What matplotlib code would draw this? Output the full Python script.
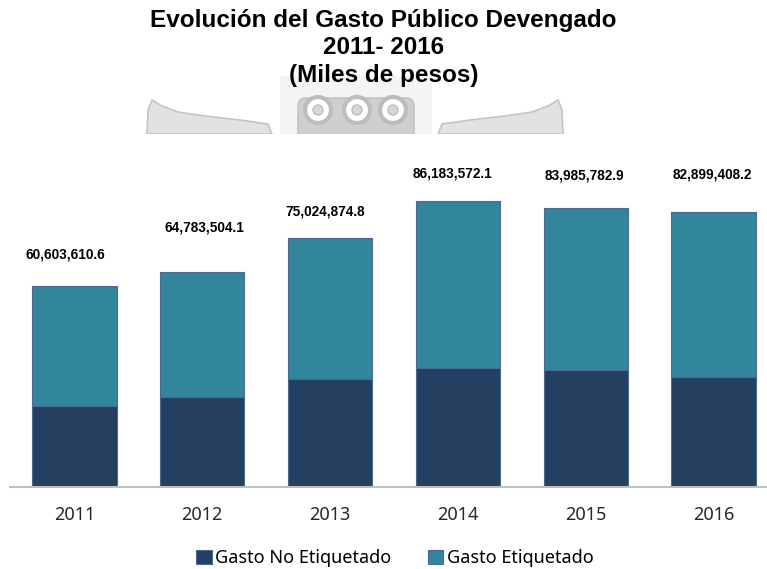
import numpy as np
import matplotlib.pyplot as plt
from matplotlib.patches import Polygon, Rectangle, Circle, FancyBboxPatch

# data (miles de pesos)
years = ['2011', '2012', '2013', '2014', '2015', '2016']
totales = [60603610.6, 64783504.1, 75024874.8, 86183572.1, 83985782.9, 82899408.2]
no_etiquetado = [24300000, 27000000, 32400000, 35700000, 35100000, 33000000]
etiquetado = [t - n for t, n in zip(totales, no_etiquetado)]
# label nudges in px (dx, gap from bar top to label centre)
label_dx = [-9, 2.5, -4.5, -5.5, -1.5, -1]
label_dy = [31, 44, 26, 28, 33, 37]

c_dark = '#243F60'
c_teal = '#31859C'

W, H = 767, 569
fig = plt.figure(figsize=(W / 100, H / 100), dpi=100)

# faded emblem behind the title (pixel coordinates)
bg = fig.add_axes([0, 0, 1, 1], zorder=0)
bg.set_xlim(0, W)
bg.set_ylim(H, 0)
bg.axis('off')
bg.add_patch(Rectangle((280, 76), 152, 58, color='#f4f4f4', lw=0))
left_wing = [(147, 134), (148, 110), (152, 100), (162, 106), (178, 112),
             (205, 116), (240, 120), (268, 124), (272, 134)]
right_wing = [(710 - x, y) for x, y in left_wing]
for pts in (left_wing, right_wing):
    bg.add_patch(Polygon(pts, closed=True, facecolor='#e2e2e2', edgecolor='#c4c4c4', lw=1.2))
bg.add_patch(FancyBboxPatch((300, 100), 112, 40, boxstyle='round,pad=2,rounding_size=8',
                            facecolor='#cfcfcf', edgecolor='#bdbdbd', lw=1))
for cx in (318, 357, 393):
    bg.add_patch(Circle((cx, 110), 13, facecolor='white', edgecolor='#bdbdbd', lw=3))
    bg.add_patch(Circle((cx, 110), 5, facecolor='#d6d6d6', edgecolor='#bdbdbd', lw=1))
bg.add_patch(Rectangle((0, 134), W, H - 134, color='white', lw=0))

# main axes
y0, y1 = 486.5, 135
px_per_unit = (y0 - 201) / totales[3]
ax = fig.add_axes([10 / W, (H - y0) / H, 757 / W, (y0 - y1) / H], zorder=1)
ax.patch.set_alpha(0)
x = np.arange(len(years))
step = 127.8
ax.set_xlim(-(74.5 - 10) / step, 5 + (767 - 713.5) / step)
ax.set_ylim(0, (y0 - y1) / px_per_unit)

ax.bar(x, no_etiquetado, width=0.66, color=c_dark, edgecolor='#4a6a94', lw=0.8,
       label='Gasto No Etiquetado')
ax.bar(x, etiquetado, bottom=no_etiquetado, width=0.66, color=c_teal, edgecolor='#4a6a94',
       lw=0.8, label='Gasto Etiquetado')

for xi, t, dx, dy in zip(x, totales, label_dx, label_dy):
    ax.annotate(f'{t:,.1f}', (xi, t), xytext=(dx * 0.72, dy * 0.72), textcoords='offset points',
                ha='center', va='center', fontsize=9.8, fontweight='bold',
                family='Liberation Sans')

for s in ('top', 'right', 'left'):
    ax.spines[s].set_visible(False)
ax.spines['bottom'].set_color('#bfbfbf')
ax.spines['bottom'].set_linewidth(1.5)
ax.set_yticks([])
ax.set_xticks(x)
ax.set_xticklabels(years, fontsize=13, family='Noto Sans', color='#262626')
ax.tick_params(axis='x', length=0, pad=14)

title_lines = ['Evolución del Gasto Público Devengado', '2011- 2016', '(Miles de pesos)']
for line, base in zip(title_lines, [27, 54.5, 82]):
    fig.text(0.5, 1 - base / H, line, ha='center', va='baseline', fontsize=17.5,
             fontweight='bold', family='Liberation Sans', zorder=3)

fig.legend(loc='center', bbox_to_anchor=(395 / W, 1 - 558 / H), ncol=2, frameon=False,
           prop={'family': 'Noto Sans', 'size': 13}, handlelength=0.85, handleheight=0.85,
           handletextpad=0.2, columnspacing=2.0)

fig.savefig('out.png', dpi=100)
